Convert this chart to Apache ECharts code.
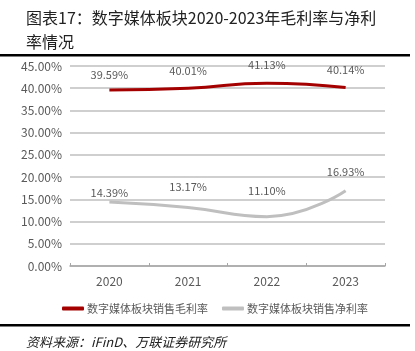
<!DOCTYPE html>
<html>
<head>
<meta charset="utf-8">
<script src="https://cdn.jsdelivr.net/npm/echarts@6/dist/echarts.min.js"></script>
<style>
  html, body { margin: 0; padding: 0; background: #fff; }
  #chart { width: 415px; height: 351px; }
</style>
</head>
<body>
<div id="chart"></div>
<script>
  var years = ['2020', '2021', '2022', '2023'];
  var grossMargin = [39.59, 40.01, 41.13, 40.14];
  var netMargin = [14.39, 13.17, 11.10, 16.93];
  var seriesNames = ['数字媒体板块销售毛利率', '数字媒体板块销售净利率'];
  // how far each value label sits above its point
  var grossLabelGap = [10, 12, 13, 12];
  var netLabelGap = [4, 15, 20, 13];

  var chart = echarts.init(document.getElementById('chart'));
  var font = '"Noto Sans CJK SC", "Noto Sans", sans-serif';
  var labelColor = '#595959';

  function withLabels(values, gaps) {
    return values.map(function (v, i) {
      return { value: v, label: { distance: gaps[i] } };
    });
  }

  function pct(p) { return p.value.toFixed(2) + '%'; }

  var option = {
    animation: false,
    textStyle: { fontFamily: font },
    title: [{
      text: '图表17：数字媒体板块2020-2023年毛利率与净利\n率情况',
      left: 21,
      top: 1,
      textStyle: { fontSize: 16, fontWeight: 'normal', color: '#222', lineHeight: 24, fontFamily: font }
    }, {
      text: '资料来源：iFinD、万联证券研究所',
      left: 21,
      top: 331,
      textStyle: { fontSize: 13, fontWeight: 'normal', fontStyle: 'italic', color: '#222', fontFamily: font }
    }],
    graphic: [
      { type: 'rect', shape: { x: 0, y: 54, width: 410, height: 2.5 }, style: { fill: '#000' } },
      { type: 'rect', shape: { x: 0, y: 324, width: 410, height: 2.5 }, style: { fill: '#000' } }
    ],
    legend: {
      left: 57,
      top: 298,
      itemWidth: 22,
      itemHeight: 4,
      itemGap: 14,
      icon: 'roundRect',
      textStyle: { color: labelColor, fontSize: 11, padding: [0, 0, 0, -2] },
      data: seriesNames
    },
    grid: { left: 70, right: 30, top: 66, bottom: 85 },
    xAxis: {
      type: 'category',
      data: years,
      boundaryGap: true,
      axisLine: { lineStyle: { color: '#a6a6a6', width: 1.5 } },
      axisTick: { show: true, length: 3, inside: true, lineStyle: { color: '#a6a6a6' } },
      axisLabel: { color: labelColor, fontSize: 12, margin: 9 }
    },
    yAxis: {
      type: 'value',
      min: 0,
      max: 45,
      interval: 5,
      axisLine: { show: false },
      axisTick: { show: false },
      axisLabel: {
        color: labelColor,
        fontSize: 12,
        margin: 8,
        formatter: function (v) { return v.toFixed(2) + '%'; }
      },
      splitLine: { lineStyle: { color: '#bfbfbf', width: 1.5 } }
    },
    series: [{
      name: seriesNames[0],
      type: 'line',
      smooth: true,
      data: withLabels(grossMargin, grossLabelGap),
      symbol: 'circle',
      symbolSize: 0.1,
      lineStyle: { color: '#a50000', width: 3 },
      itemStyle: { color: '#a50000' },
      label: { show: true, position: 'top', color: labelColor, fontSize: 11, formatter: pct }
    }, {
      name: seriesNames[1],
      type: 'line',
      smooth: true,
      data: withLabels(netMargin, netLabelGap),
      symbol: 'circle',
      symbolSize: 0.1,
      lineStyle: { color: '#bfbfbf', width: 3 },
      itemStyle: { color: '#bfbfbf' },
      label: { show: true, position: 'top', color: labelColor, fontSize: 11, formatter: pct }
    }]
  };

  chart.setOption(option);
</script>
</body>
</html>
